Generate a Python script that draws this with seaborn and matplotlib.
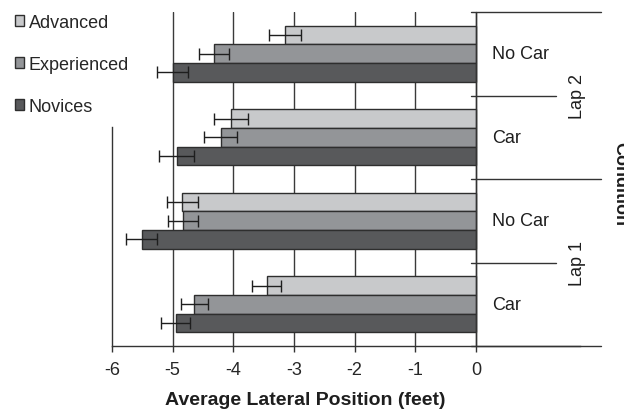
import matplotlib
matplotlib.use("Agg")
import matplotlib.pyplot as plt
from matplotlib.patches import Patch
import seaborn as sns
import pandas as pd

sns.set_style("white")
plt.rcParams['font.family'] = ['Liberation Sans', 'DejaVu Sans']

# ---- data ----
groups = ["Lap 2 No Car", "Lap 2 Car", "Lap 1 No Car", "Lap 1 Car"]
car_labels = ["No Car", "Car", "No Car", "Car"]
lap_labels = ["Lap 2", "Lap 1"]
levels = ["Advanced", "Experienced", "Novices"]
advanced = [-3.15, -4.04, -4.84, -3.45]
experienced = [-4.32, -4.21, -4.83, -4.64]
novices = [-5.00, -4.93, -5.51, -4.95]
err_adv = [0.26, 0.28, 0.25, 0.24]
err_exp = [0.25, 0.27, 0.25, 0.23]
err_nov = [0.26, 0.29, 0.26, 0.24]
xticks = [-6, -5, -4, -3, -2, -1, 0]

colors = ["#c8c9cb", "#939598", "#58595b"]
edge = "#2e2e2e"

values = {"Advanced": advanced, "Experienced": experienced, "Novices": novices}
errors = {"Advanced": err_adv, "Experienced": err_exp, "Novices": err_nov}
rows = []
for lev in levels:
    for g, v in zip(groups, values[lev]):
        rows.append({"group": g, "level": lev, "value": v})
df = pd.DataFrame(rows)

W, H = 624, 414
fig = plt.figure(figsize=(W / 100, H / 100), dpi=100)
ax = fig.add_axes([112 / W, 1 - 347 / H, (580 - 112) / W, (347 - 13) / H])

sns.barplot(data=df, x="value", y="group", hue="level", order=groups,
            hue_order=levels, palette=colors, orient="h", width=0.67,
            edgecolor=edge, linewidth=1, errorbar=None, ax=ax, legend=False,
            saturation=1)

for cont, lev in zip(ax.containers, levels):
    ys = [b.get_y() + b.get_height() / 2 for b in cont]
    ax.errorbar(values[lev], ys, xerr=errors[lev], fmt="none", ecolor="#1e1e1e",
                elinewidth=1, capsize=4.5, capthick=1, zorder=5)

xmax = (580 - 476) / 60.6
ax.set_xlim(-6, xmax)
ax.set_ylim(3.5, -0.5)
ax.set_xticks(xticks)
ax.set_xticklabels([str(t) for t in xticks])
ax.set_yticks([])
ax.set_xlabel("")
ax.set_ylabel("")
ax.tick_params(axis="x", direction="out", length=4, width=1, color="#333333",
               labelsize=13, pad=7, bottom=True)
ax.xaxis.grid(True, color="#3a3a3a", lw=1)
ax.set_axisbelow(True)
ax.get_xgridlines()[0].set_visible(False)

for s in ["top", "right"]:
    ax.spines[s].set_visible(False)
ax.spines["left"].set_color("#333333")
ax.spines["bottom"].set_color("#333333")
ax.spines["left"].set_linewidth(1)
ax.spines["bottom"].set_linewidth(1)
ax.spines["left"].set_bounds(0.88, 3.5)

# right-side category axis
ax.plot([0, 0], [-0.5, 3.5], color="#333333", lw=1, zorder=4, clip_on=False)
for yb in [-0.5, 1.5, 3.5]:
    ax.plot([-0.08, 2.06], [yb, yb], color="#333333", lw=1, clip_on=False)
for yb in [0.5, 2.5]:
    ax.plot([-0.08, 1.32], [yb, yb], color="#333333", lw=1, clip_on=False)
for i, lab in enumerate(car_labels):
    ax.text(0.27, i, lab, ha="left", va="center", fontsize=13, color="#1e1e1e",
            clip_on=False)
for yb, lab in zip([0.5, 2.5], lap_labels):
    ax.text(1.67, yb, lab, ha="center", va="center", rotation=90, fontsize=13,
            color="#1e1e1e", clip_on=False)

fig.text(611 / W, 1 - 184 / H, "Condition", rotation=270, ha="left",
         va="center", fontsize=13, fontweight="bold", color="#1e1e1e")
fig.text(305 / W, 1 - 401 / H, "Average Lateral Position (feet)", ha="center",
         va="center", fontsize=14, fontweight="bold", color="#1e1e1e")

handles = [Patch(facecolor=c, edgecolor=edge, lw=1) for c in colors]
fig.legend(handles, levels, loc="upper left", bbox_to_anchor=(15 / W, 1 - 15 / H),
           frameon=False, fontsize=13, handlelength=0.5, handleheight=0.5,
           handletextpad=0.25, labelspacing=1.38, borderaxespad=0, borderpad=0)

fig.savefig("out.png", dpi=100)
